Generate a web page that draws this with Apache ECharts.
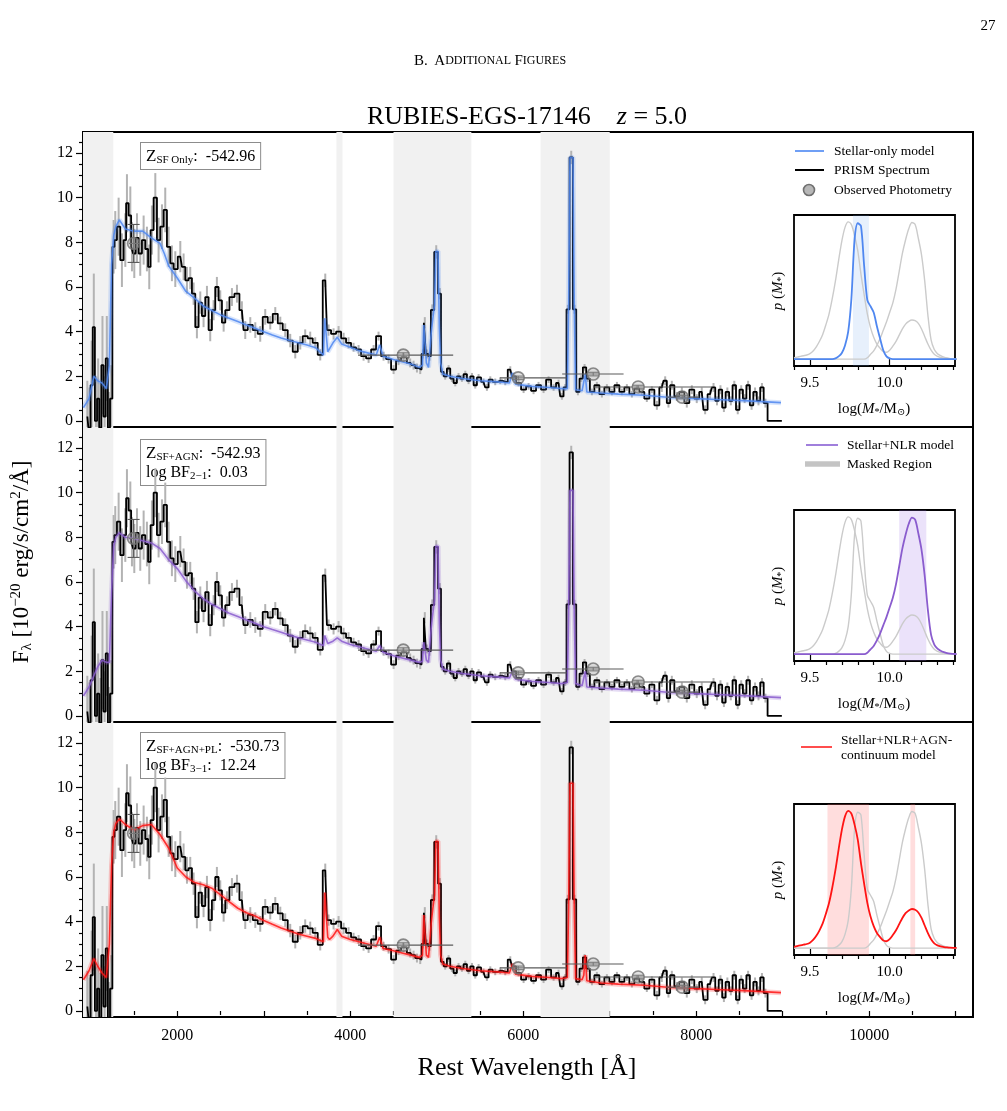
<!DOCTYPE html>
<html>
<head>
<meta charset="utf-8">
<script src="https://cdn.jsdelivr.net/npm/echarts@6/dist/echarts.min.js"></script>
<style>
  html, body { margin: 0; padding: 0; background: #fff; }
  #chart { width: 1007px; height: 1111px; }
</style>
</head>
<body>
<div id="chart"></div>
<script>
const SERIF = '"Liberation Serif", "DejaVu Serif", serif';

// rest-frame wavelength windows masked in the fit (Å)
const maskedRegions = [[900, 1260], [3840, 3910], [4500, 5400], [6200, 7000]];

// PRISM spectrum: [rest wavelength (Å), flux, error]
const spectrum = [
  [960, 0.2, 1.6], [985, -0.3, 1.8], [1010, 1.6, 2.0], [1035, 4.2, 2.4], [1060, 0.0, 2.0], [1085, 1.0, 1.8],
  [1110, -0.3, 2.0], [1135, 2.5, 2.2], [1160, 0.2, 1.8], [1185, 2.8, 1.9], [1210, -0.3, 1.6], [1235, 1.0, 1.5],
  [1264, 7.8, 1.2], [1283, 8.1, 1.3], [1322, 8.7, 1.3], [1360, 7.2, 1.2], [1399, 8.1, 1.2], [1418, 9.75, 1.3],
  [1457, 9.2, 1.3], [1476, 7.8, 1.1], [1503, 7.5, 1.1], [1534, 8.2, 1.1], [1572, 7.5, 1.0], [1611, 8.1, 1.1],
  [1649, 7.7, 1.0], [1676, 6.9, 1.0], [1707, 8.55, 1.1], [1746, 10.0, 1.1], [1784, 8.1, 1.0], [1823, 8.7, 1.0],
  [1861, 9.45, 1.0], [1900, 7.8, 0.9], [1938, 7.06, 0.8], [1977, 6.8, 0.8], [2035, 7.36, 0.7], [2073, 6.9, 0.6],
  [2112, 6.3, 0.6], [2150, 6.4, 0.5], [2189, 5.7, 0.5], [2227, 4.2, 0.5], [2266, 5.3, 0.5], [2304, 4.7, 0.5],
  [2343, 5.55, 0.5], [2381, 4.07, 0.5], [2420, 4.96, 0.45], [2458, 6.0, 0.45], [2497, 5.4, 0.45], [2536, 4.4, 0.4],
  [2574, 4.96, 0.4], [2632, 5.55, 0.4], [2690, 5.7, 0.4], [2747, 4.96, 0.4], [2786, 4.07, 0.4], [2844, 4.3, 0.35],
  [2902, 4.07, 0.35], [2959, 3.9, 0.35], [3017, 4.66, 0.35], [3075, 4.4, 0.3], [3133, 4.8, 0.3], [3191, 4.37, 0.3],
  [3248, 4.07, 0.3], [3306, 3.6, 0.3], [3364, 3.1, 0.3], [3422, 3.5, 0.3], [3479, 3.8, 0.3], [3537, 3.7, 0.3],
  [3595, 3.5, 0.25], [3653, 2.96, 0.25], [3711, 6.3, 0.3], [3749, 4.07, 0.25], [3807, 3.9, 0.25], [3865, 4.0, 0.25],
  [3923, 3.7, 0.25], [3980, 3.5, 0.25], [4038, 3.3, 0.2], [4096, 3.2, 0.2], [4154, 2.9, 0.2], [4212, 2.8, 0.2],
  [4270, 3.2, 0.2], [4327, 3.8, 0.2], [4385, 2.9, 0.2], [4443, 2.77, 0.2], [4501, 2.3, 0.2], [4558, 2.7, 0.2],
  [4616, 2.85, 0.2], [4693, 2.6, 0.2], [4732, 2.5, 0.2], [4771, 2.37, 0.2], [4809, 2.3, 0.2], [4840, 3.0, 0.2],
  [4862, 4.4, 0.25], [4886, 3.0, 0.2], [4917, 2.9, 0.2], [4948, 4.97, 0.25], [4994, 7.57, 0.3], [5036, 5.7, 0.25],
  [5062, 2.2, 0.15], [5098, 2.0, 0.15], [5137, 2.35, 0.15], [5175, 1.9, 0.15], [5214, 1.7, 0.15], [5252, 2.0, 0.15],
  [5291, 1.9, 0.15], [5330, 2.1, 0.15], [5368, 1.8, 0.15], [5407, 2.0, 0.15], [5445, 1.6, 0.15], [5484, 1.95, 0.15],
  [5541, 1.75, 0.15], [5580, 1.5, 0.15], [5619, 1.85, 0.15], [5676, 1.75, 0.15], [5734, 1.8, 0.15], [5792, 1.75, 0.15],
  [5850, 2.3, 0.15], [5888, 2.0, 0.15], [5946, 1.7, 0.15], [6004, 1.4, 0.15], [6062, 1.55, 0.15], [6119, 1.35, 0.15],
  [6177, 1.6, 0.15], [6235, 1.4, 0.15], [6293, 1.85, 0.15], [6351, 1.5, 0.15], [6408, 1.7, 0.15], [6447, 1.1, 0.15],
  [6485, 1.5, 0.15], [6516, 5.0, 0.2], [6555, 11.8, 0.3], [6593, 5.0, 0.2], [6632, 1.3, 0.15], [6670, 1.9, 0.15],
  [6709, 2.4, 0.15], [6747, 1.9, 0.15], [6794, 1.3, 0.15], [6851, 1.6, 0.15], [6909, 1.2, 0.15], [6967, 1.5, 0.15],
  [7025, 1.3, 0.15], [7083, 1.6, 0.15], [7140, 1.3, 0.15], [7198, 1.5, 0.15], [7256, 1.2, 0.15], [7314, 1.45, 0.15],
  [7371, 1.3, 0.15], [7429, 1.0, 0.15], [7487, 1.4, 0.15], [7545, 0.7, 0.2], [7602, 1.5, 0.2], [7641, 1.8, 0.2],
  [7679, 0.8, 0.2], [7718, 1.6, 0.2], [7776, 1.1, 0.2], [7834, 1.3, 0.2], [7891, 0.8, 0.2], [7949, 1.4, 0.2],
  [8006, 1.0, 0.2], [8064, 1.3, 0.2], [8103, 0.5, 0.2], [8160, 1.2, 0.2], [8200, 1.5, 0.2], [8240, 0.9, 0.2],
  [8280, 1.4, 0.2], [8320, 0.6, 0.2], [8360, 1.3, 0.2], [8400, 0.9, 0.2], [8440, 1.6, 0.2], [8480, 0.5, 0.2],
  [8520, 1.4, 0.2], [8560, 1.0, 0.2], [8600, 1.6, 0.2], [8640, 0.7, 0.2], [8680, 1.3, 0.2], [8720, 0.9, 0.2],
  [8760, 1.5, 0.2], [8800, 0.8, 0.2], [8850, 0.0, 0], [8990, 0.0, 0]
];

// photometry: [wavelength, flux, wavelength lo, wavelength hi, flux error]
const photometry = [
  [1495, 7.95, 1440, 1560, 0.85],
  [4613, 2.95, 4090, 5190, 0.1],
  [5942, 1.93, 5730, 6500, 0.08],
  [6809, 2.1, 6450, 7160, 0.08],
  [7329, 1.52, 6810, 8185, 0.08],
  [7838, 1.07, 7650, 8030, 0.08]
];

// best-fit models on a common wavelength grid
const modelWave = [
  915, 980, 1035, 1080, 1130, 1180, 1215, 1240, 1265, 1290, 1330,
  1400, 1500, 1600, 1700, 1800, 1850, 1900, 2000,
  2100, 2200, 2300, 2400, 2500, 2600, 2700, 2800, 2900, 3000,
  3100, 3200, 3300, 3400, 3500, 3600,
  3690, 3705, 3720, 3740, 3760, 3800, 3850, 3900,
  4000, 4100, 4200, 4300, 4340, 4380, 4500, 4600, 4700, 4800,
  4835, 4850, 4865, 4880, 4905, 4935, 4955, 4975, 4990, 5015, 5030, 5045, 5070,
  5150, 5300, 5500, 5700, 5840, 5876, 5910, 6100, 6300, 6450,
  6510, 6525, 6540, 6575, 6590, 6605, 6680, 6700, 6717, 6735,
  6900, 7100, 7400, 7700, 8000, 8300, 8600, 8980
];
const modelStellar = [
  0.6, 1.0, 2.0, 1.8, 1.7, 1.45, 2.5, 7.0, 8.3, 8.7, 9.0,
  8.6, 8.5, 8.5, 8.2, 7.95, 7.5, 6.95, 6.4,
  5.8, 5.5, 5.15, 4.95, 4.75, 4.6, 4.45, 4.3, 4.15, 4.0,
  3.85, 3.72, 3.6, 3.5, 3.4, 3.28,
  2.95, 4.6, 4.6, 3.1, 3.1, 3.5, 3.75, 3.45,
  3.3, 3.15, 3.05, 2.95, 3.4, 2.9, 2.75, 2.65, 2.55, 2.4,
  2.5, 4.3, 4.3, 2.6, 2.4, 3.9, 4.6, 5.2, 7.6, 7.6, 4.2, 2.6, 2.1,
  2.0, 1.9, 1.8, 1.75, 1.7, 2.15, 1.65, 1.55, 1.5, 1.45,
  1.45, 5.2, 11.8, 11.8, 5.2, 1.4, 1.35, 1.4, 2.1, 1.3,
  1.25, 1.2, 1.15, 1.05, 1.0, 0.95, 0.9, 0.82
];
const modelNLR = [
  0.9, 1.3, 1.8, 2.2, 2.5, 2.4, 2.4, 5.5, 7.6, 8.0, 8.2,
  8.0, 7.95, 7.85, 7.75, 7.5, 7.25, 7.0, 6.6,
  6.05, 5.6, 5.25, 5.0, 4.8, 4.6, 4.45, 4.3, 4.15, 4.0,
  3.87, 3.75, 3.62, 3.5, 3.4, 3.3,
  3.15, 3.6, 3.6, 3.25, 3.25, 3.35, 3.5, 3.35,
  3.2, 3.1, 3.0, 2.9, 3.15, 2.85, 2.7, 2.6, 2.5, 2.4,
  2.45, 3.3, 3.3, 2.5, 2.4, 3.9, 4.6, 5.2, 7.6, 7.6, 4.2, 2.5, 2.1,
  2.0, 1.9, 1.8, 1.75, 1.7, 2.0, 1.65, 1.55, 1.5, 1.45,
  1.5, 4.5, 10.1, 10.1, 4.5, 1.45, 1.35, 1.4, 2.0, 1.3,
  1.25, 1.2, 1.15, 1.05, 1.0, 0.95, 0.9, 0.82
];
const modelAGN = [
  1.4, 1.8, 2.35, 2.0, 1.7, 1.5, 3.0, 6.5, 8.0, 8.4, 8.6,
  8.35, 8.1, 8.3, 8.35, 7.9, 7.6, 7.3, 6.4,
  6.0, 5.75, 5.65, 5.5, 5.2, 4.9, 4.6, 4.4, 4.25, 4.05,
  3.88, 3.72, 3.58, 3.45, 3.35, 3.25,
  3.1, 5.3, 5.3, 3.3, 3.2, 3.35, 3.65, 3.35,
  3.2, 3.1, 3.0, 2.9, 3.3, 2.8, 2.7, 2.6, 2.5, 2.4,
  2.5, 4.3, 4.3, 2.5, 2.4, 3.9, 4.6, 5.2, 7.6, 7.6, 4.2, 2.5, 2.1,
  2.0, 1.9, 1.8, 1.75, 1.7, 2.1, 1.65, 1.55, 1.5, 1.45,
  1.5, 4.6, 10.2, 10.2, 4.6, 1.45, 1.4, 1.6, 2.5, 1.35,
  1.25, 1.2, 1.15, 1.05, 1.0, 0.95, 0.9, 0.82
];

// stellar mass posteriors, log(M*/Msun), peak-normalised
const massGrid = [
  9.40, 9.42, 9.44, 9.46, 9.48, 9.50, 9.52, 9.54, 9.56, 9.58, 9.60, 9.62, 9.64,
  9.66, 9.68, 9.70, 9.72, 9.74, 9.76, 9.78, 9.80, 9.82, 9.84, 9.86, 9.88, 9.90,
  9.92, 9.94, 9.96, 9.98, 10.00, 10.02, 10.04, 10.06, 10.08, 10.10, 10.12, 10.14, 10.16,
  10.18, 10.20, 10.22, 10.24, 10.26, 10.28, 10.30, 10.32, 10.34, 10.36, 10.38, 10.40, 10.42
];
const pStellar = [
  0, 0, 0, 0, 0, 0, 0, 0, 0, 0, 0, 0, 0,
  0.005, 0.02, 0.045, 0.1, 0.2, 0.44, 0.87, 0.99, 0.97, 0.68, 0.43, 0.385, 0.34,
  0.24, 0.15, 0.065, 0.02, 0.005, 0, 0, 0, 0, 0, 0, 0, 0,
  0, 0, 0, 0, 0, 0, 0, 0, 0, 0, 0, 0, 0
];
const pNLR = [
  0, 0, 0, 0, 0, 0, 0, 0, 0, 0, 0, 0, 0,
  0, 0, 0, 0, 0, 0, 0, 0, 0, 0, 0.01, 0.035, 0.06,
  0.1, 0.15, 0.21, 0.27, 0.34, 0.41, 0.51, 0.64, 0.77, 0.87, 0.95, 0.995, 0.98,
  0.88, 0.76, 0.57, 0.32, 0.14, 0.07, 0.04, 0.025, 0.015, 0.008, 0.004, 0.002, 0
];
const pAGN = [
  0.01, 0.015, 0.02, 0.025, 0.03, 0.04, 0.06, 0.09, 0.13, 0.18, 0.25, 0.33, 0.44,
  0.57, 0.72, 0.86, 0.96, 1.0, 0.98, 0.9, 0.79, 0.62, 0.47, 0.33, 0.23, 0.16,
  0.11, 0.08, 0.055, 0.05, 0.065, 0.095, 0.13, 0.175, 0.22, 0.255, 0.275, 0.285, 0.28,
  0.26, 0.22, 0.165, 0.11, 0.065, 0.035, 0.02, 0.012, 0.008, 0.005, 0.003, 0.002, 0.002
];
// 16-84 percent intervals shaded in the insets
const ciStellar = [[9.77, 9.87]];
const ciNLR = [[10.06, 10.23]];
const ciAGN = [[9.61, 9.87], [10.13, 10.16]];

// tick positions
const waveLabels = [2000, 4000, 6000, 8000, 10000];
const waveTicks = [1000, 2000, 3000, 4000, 5000, 6000, 7000, 8000, 9000, 10000, 11000];
const waveMinorTicks = [1500, 2500, 3500, 4500, 5500, 6500, 7500, 8500, 9500, 10500];
const fluxLabels = [0, 2, 4, 6, 8, 10, 12];
const fluxMinorTicks = [0.5, 1, 1.5, 2.5, 3, 3.5, 4.5, 5, 5.5, 6.5, 7, 7.5, 8.5, 9, 9.5, 10.5, 11, 11.5, 12.5];
const massLabels = [9.5, 10.0];
const massMinorTicks = [9.4, 9.6, 9.7, 9.8, 9.9, 10.1, 10.2, 10.3, 10.4];

const waveMin = 910, waveMax = 11200;
const fluxMin = -0.27, fluxMax = 12.94;
const massMin = 9.4, massMax = 10.41;

const panels = [
  { top: 132, model: modelStellar, color: '#4f87f0', post: pStellar, others: [pNLR, pAGN], ci: ciStellar, ciColor: 'rgba(110,165,240,0.17)', inset: 215 },
  { top: 427, model: modelNLR, color: '#8a5cce', post: pNLR, others: [pStellar, pAGN], ci: ciNLR, ciColor: 'rgba(165,125,230,0.22)', inset: 510 },
  { top: 722, model: modelAGN, color: '#ff1414', post: pAGN, others: [pStellar, pNLR], ci: ciAGN, ciColor: 'rgba(255,120,120,0.25)', inset: 804 }
];

const grid = [], xAxis = [], yAxis = [], series = [];
const tickStyle = { color: '#000', width: 1.2 };

panels.forEach((p, i) => {
  grid.push({ left: 83, width: 890, top: p.top, height: 295, show: true, borderColor: '#000', borderWidth: 2, outerBoundsMode: 'none' });
});
panels.forEach((p, i) => {
  grid.push({ left: 794, width: 161, top: p.inset, height: 151, show: true, borderColor: '#000', borderWidth: 1.8, outerBoundsMode: 'none' });
});

// main x axes 0..2
panels.forEach((p, i) => {
  const bottom = i === 2;
  xAxis.push({
    type: 'value', gridIndex: i, min: waveMin, max: waveMax, position: 'bottom',
    axisLine: { show: false }, splitLine: { show: false },
    axisTick: { show: bottom, customValues: waveTicks, length: 7, lineStyle: tickStyle },
    axisLabel: { show: bottom, customValues: waveLabels, margin: 11, color: '#000', fontFamily: SERIF, fontSize: 16, formatter: v => String(v) }
  });
});
// inset x axes 3..5
panels.forEach((p, i) => {
  xAxis.push({
    type: 'value', gridIndex: 3 + i, min: massMin, max: massMax, position: 'bottom',
    axisLine: { show: false }, splitLine: { show: false },
    axisTick: { customValues: massLabels, length: 7, lineStyle: tickStyle },
    axisLabel: { customValues: massLabels, margin: 10, color: '#000', fontFamily: SERIF, fontSize: 15, formatter: v => v.toFixed(1) }
  });
});
// inset minor ticks 6..8
panels.forEach((p, i) => {
  xAxis.push({
    type: 'value', gridIndex: 3 + i, min: massMin, max: massMax, position: 'bottom',
    axisLine: { show: false }, splitLine: { show: false }, axisLabel: { show: false },
    axisTick: { customValues: massMinorTicks, length: 4, lineStyle: tickStyle }
  });
});
// main bottom minor ticks 9
xAxis.push({
  type: 'value', gridIndex: 2, min: waveMin, max: waveMax, position: 'bottom',
  axisLine: { show: false }, splitLine: { show: false }, axisLabel: { show: false },
  axisTick: { customValues: waveMinorTicks, length: 4, lineStyle: tickStyle }
});

// main y axes 0..2
panels.forEach((p, i) => {
  yAxis.push({
    type: 'value', gridIndex: i, min: fluxMin, max: fluxMax, position: 'left',
    axisLine: { show: false }, splitLine: { show: false },
    axisTick: { customValues: fluxLabels, length: 7, lineStyle: tickStyle },
    axisLabel: { customValues: fluxLabels, margin: 10, color: '#000', fontFamily: SERIF, fontSize: 16 }
  });
});
// inset y axes 3..5
panels.forEach((p, i) => {
  yAxis.push({
    type: 'value', gridIndex: 3 + i, min: -0.05, max: 1.05,
    axisLine: { show: false }, splitLine: { show: false }, axisTick: { show: false }, axisLabel: { show: false }
  });
});
// main minor y ticks 6..8
panels.forEach((p, i) => {
  yAxis.push({
    type: 'value', gridIndex: i, min: fluxMin, max: fluxMax, position: 'left', offset: 0,
    axisLine: { show: false }, splitLine: { show: false }, axisLabel: { show: false },
    axisTick: { customValues: fluxMinorTicks, length: 4, lineStyle: tickStyle }
  });
});

function bandRender(color) {
  return function (params, api) {
    const cs = params.coordSys;
    const x0 = Math.max(api.coord([api.value(0), 0])[0], cs.x);
    const x1 = Math.min(api.coord([api.value(1), 0])[0], cs.x + cs.width);
    return { type: 'rect', shape: { x: x0, y: cs.y, width: x1 - x0, height: cs.height }, style: { fill: color } };
  };
}

panels.forEach((p, i) => {
  const modelData = modelWave.map((w, k) => [w, p.model[k]]);
  series.push({
    type: 'custom', xAxisIndex: i, yAxisIndex: i, z: 1, silent: true,
    data: maskedRegions, renderItem: bandRender('#f1f1f1')
  });
  series.push({
    type: 'custom', xAxisIndex: i, yAxisIndex: i, z: 2, silent: true, clip: true,
    data: spectrum,
    renderItem: (params, api) => {
      const x = api.value(0), y = api.value(1), e = api.value(2);
      const a = api.coord([x, y - e]), b = api.coord([x, y + e]);
      return { type: 'line', shape: { x1: a[0], y1: a[1], x2: b[0], y2: b[1] }, style: { stroke: '#b3b3b3', lineWidth: 2 } };
    }
  });
  series.push({
    name: 'PRISM Spectrum', type: 'line', xAxisIndex: i, yAxisIndex: i, z: 3, step: 'middle',
    showSymbol: false, silent: true, data: spectrum.map(d => [d[0], d[1]]),
    lineStyle: { color: '#000', width: 1.8 }
  });
  series.push({
    type: 'line', xAxisIndex: i, yAxisIndex: i, z: 4, showSymbol: false, silent: true, data: modelData,
    lineStyle: { color: p.color, width: 5, opacity: 0.22 }
  });
  series.push({
    type: 'line', xAxisIndex: i, yAxisIndex: i, z: 5, showSymbol: false, silent: true, data: modelData,
    lineStyle: { color: p.color, width: 1.6, opacity: 0.85 }
  });
  series.push({
    type: 'custom', xAxisIndex: i, yAxisIndex: i, z: 6, silent: true, data: photometry,
    renderItem: (params, api) => {
      const x = api.value(0), y = api.value(1);
      const l = api.coord([api.value(2), y]), r = api.coord([api.value(3), y]);
      const t = api.coord([x, y + api.value(4)]), b = api.coord([x, y - api.value(4)]);
      const st = { stroke: '#5a5a5a', lineWidth: 1.1 };
      return { type: 'group', children: [
        { type: 'line', shape: { x1: l[0], y1: l[1], x2: r[0], y2: r[1] }, style: st },
        { type: 'line', shape: { x1: t[0], y1: t[1], x2: b[0], y2: b[1] }, style: st },
        { type: 'line', shape: { x1: t[0] - 6, y1: t[1], x2: t[0] + 6, y2: t[1] }, style: st },
        { type: 'line', shape: { x1: b[0] - 6, y1: b[1], x2: b[0] + 6, y2: b[1] }, style: st }
      ] };
    }
  });
  series.push({
    name: 'Observed Photometry', type: 'scatter', xAxisIndex: i, yAxisIndex: i, z: 7, silent: true,
    symbolSize: 12, data: photometry.map(d => [d[0], d[1]]),
    itemStyle: { color: 'rgba(175,175,175,0.45)', borderColor: '#707070', borderWidth: 1.6 }
  });

  // inset
  series.push({
    type: 'custom', xAxisIndex: 3 + i, yAxisIndex: 3 + i, z: 1, silent: true,
    data: p.ci, renderItem: bandRender(p.ciColor)
  });
  p.others.forEach(o => {
    series.push({
      type: 'line', xAxisIndex: 3 + i, yAxisIndex: 3 + i, z: 2, smooth: 0.3, showSymbol: false, silent: true,
      data: massGrid.map((m, k) => [m, o[k]]), lineStyle: { color: '#cbcbcb', width: 1.4 }
    });
  });
  series.push({
    type: 'line', xAxisIndex: 3 + i, yAxisIndex: 3 + i, z: 3, smooth: 0.3, showSymbol: false, silent: true,
    data: massGrid.map((m, k) => [m, p.post[k]]), lineStyle: { color: p.color, width: 1.8 }
  });
});

// ---- text, boxes and legends
const graphic = [];
function txt(x, y, text, size, opt) {
  return Object.assign({
    type: 'text', x: x, y: y,
    style: Object.assign({ text: text, fontFamily: SERIF, fontSize: size, fill: '#000',
      align: 'left', textAlign: 'left', verticalAlign: 'middle', textVerticalAlign: 'middle' }, (opt && opt.style) || {})
  }, (opt && opt.el) || {});
}
const richBox = {
  z: { fontFamily: SERIF, fontSize: 17, lineHeight: 19 },
  t: { fontFamily: SERIF, fontSize: 16, lineHeight: 19 },
  sub: { fontFamily: SERIF, fontSize: 11, lineHeight: 13, verticalAlign: 'bottom' }
};
const boxStyle = (text) => ({
  text: text, rich: richBox, fill: '#000', backgroundColor: '#fff',
  borderColor: '#8c8c8c', borderWidth: 1, padding: [4, 5, 3, 5],
  align: 'left', textAlign: 'left', verticalAlign: 'top', textVerticalAlign: 'top'
});

graphic.push(txt(988, 26, '27', 15, { style: { align: 'center', textAlign: 'center' } }));
graphic.push({
  type: 'text', x: 490, y: 61,
  style: {
    text: '{b|B.}  {b|A}{s|DDITIONAL} {b|F}{s|IGURES}',
    rich: { b: { fontFamily: SERIF, fontSize: 15 }, s: { fontFamily: SERIF, fontSize: 12 } },
    align: 'center', textAlign: 'center', verticalAlign: 'middle', textVerticalAlign: 'middle'
  }
});
graphic.push({
  type: 'text', x: 527, y: 117,
  style: {
    text: '{a|RUBIES-EGS-17146    }{i|z}{a| = 5.0}',
    rich: { a: { fontFamily: SERIF, fontSize: 26 }, i: { fontFamily: SERIF, fontSize: 26, fontStyle: 'italic' } },
    align: 'center', textAlign: 'center', verticalAlign: 'middle', textVerticalAlign: 'middle'
  }
});
graphic.push(txt(527, 1068, 'Rest Wavelength [Å]', 26, { style: { align: 'center', textAlign: 'center' } }));
graphic.push({
  type: 'text', x: 22, y: 562, rotation: Math.PI / 2,
  style: {
    text: '{a|F}{s|λ}{a| [10}{p|−20}{a| erg/s/cm}{p|2}{a|/Å]}',
    rich: {
      a: { fontFamily: SERIF, fontSize: 23, lineHeight: 26 },
      s: { fontFamily: SERIF, fontSize: 15, lineHeight: 15, verticalAlign: 'bottom' },
      p: { fontFamily: SERIF, fontSize: 15, lineHeight: 15, verticalAlign: 'top' }
    },
    align: 'center', textAlign: 'center', verticalAlign: 'middle', textVerticalAlign: 'middle'
  }
});

// model comparison boxes
graphic.push({ type: 'text', x: 141, y: 143, style: boxStyle('{z|Z}{sub|SF Only}{t|:  -542.96}') });
graphic.push({ type: 'text', x: 141, y: 440, style: boxStyle('{z|Z}{sub|SF+AGN}{t|:  -542.93}\n{t|log BF}{sub|2−1}{t|:  0.03}') });
graphic.push({ type: 'text', x: 141, y: 733, style: boxStyle('{z|Z}{sub|SF+AGN+PL}{t|:  -530.73}\n{t|log BF}{sub|3−1}{t|:  12.24}') });

// inset axis names
const insetRich = {
  r: { fontFamily: SERIF, fontSize: 15, lineHeight: 17 },
  i: { fontFamily: SERIF, fontSize: 15, lineHeight: 17, fontStyle: 'italic' },
  s: { fontFamily: SERIF, fontSize: 10, lineHeight: 11, verticalAlign: 'bottom' }
};
panels.forEach(p => {
  graphic.push({
    type: 'text', x: 874, y: p.inset + 194,
    style: { text: '{r|log(}{i|M}{s|*}{r|/M}{s|⊙}{r|)}', rich: insetRich,
      align: 'center', textAlign: 'center', verticalAlign: 'middle', textVerticalAlign: 'middle' }
  });
  graphic.push({
    type: 'text', x: 778, y: p.inset + 76, rotation: Math.PI / 2,
    style: { text: '{i|p}{r| (}{i|M}{s|*}{r|)}', rich: insetRich,
      align: 'center', textAlign: 'center', verticalAlign: 'middle', textVerticalAlign: 'middle' }
  });
});

// legends
function legendLine(x1, x2, y, color, width) {
  return { type: 'line', shape: { x1: x1, y1: y, x2: x2, y2: y }, style: { stroke: color, lineWidth: width } };
}
graphic.push(legendLine(795, 824, 151, '#6f9ff5', 2));
graphic.push(txt(834, 151, 'Stellar-only model', 13.5));
graphic.push(legendLine(795, 824, 170, '#000', 2));
graphic.push(txt(834, 170, 'PRISM Spectrum', 13.5));
graphic.push({ type: 'circle', shape: { cx: 809, cy: 190, r: 5.5 }, style: { fill: 'rgba(175,175,175,0.9)', stroke: '#707070', lineWidth: 1.6 } });
graphic.push(txt(834, 190, 'Observed Photometry', 13.5));

graphic.push(legendLine(806, 838, 445, '#a07fdc', 2));
graphic.push(txt(847, 445, 'Stellar+NLR model', 13.5));
graphic.push(legendLine(805, 840, 464, '#c4c4c4', 5.5));
graphic.push(txt(847, 464, 'Masked Region', 13.5));

graphic.push(legendLine(801, 832, 747, '#ff4d4d', 2));
graphic.push(txt(841, 740, 'Stellar+NLR+AGN-', 13.5));
graphic.push(txt(841, 755, 'continuum model', 13.5));

const chart = echarts.init(document.getElementById('chart'));
chart.setOption({
  animation: false,
  backgroundColor: '#fff',
  grid: grid,
  xAxis: xAxis,
  yAxis: yAxis,
  series: series,
  graphic: { elements: graphic }
});
</script>
</body>
</html>
